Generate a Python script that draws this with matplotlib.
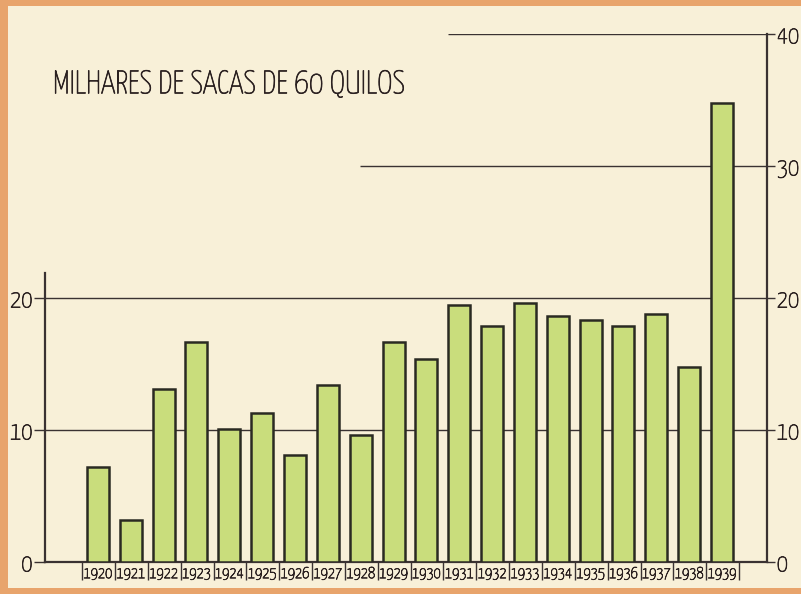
import matplotlib.pyplot as plt
import matplotlib.patheffects as pe
from matplotlib.patches import Rectangle

# dados
anos = ['1920', '1921', '1922', '1923', '1924', '1925', '1926', '1927', '1928', '1929',
        '1930', '1931', '1932', '1933', '1934', '1935', '1936', '1937', '1938', '1939']
sacas = [7.2, 3.2, 13.1, 16.7, 10.1, 11.3, 8.1, 13.4, 9.6, 16.7,
         15.4, 19.5, 17.9, 19.6, 18.6, 18.3, 17.9, 18.8, 14.8, 34.8]
ticks_esq = [0, 10, 20]
ticks_dir = [0, 10, 20, 30, 40]
titulo = 'MILHARES DE SACAS DE 60 QUILOS'

plt.rcParams['font.family'] = ['Yanone Kaffeesatz', 'Liberation Sans Narrow', 'DejaVu Sans']

fundo = '#f8f0d8'
laranja = '#e8a46c'
traco = '#3a3232'
letra = '#2a2020'
# engrossa um pouco o traço das letras
grosso = [pe.withStroke(linewidth=0.5, foreground=letra)]

fig = plt.figure(figsize=(8.01, 5.94), dpi=100, facecolor=laranja)
# papel creme dentro da moldura laranja
fig.patches.append(Rectangle((8 / 801, 6 / 594), 1 - 8 / 801, 1 - 12 / 594,
                             transform=fig.transFigure, facecolor=fundo,
                             edgecolor='none', zorder=-5))

ax = fig.add_axes([45 / 801, 32 / 594, 722 / 801, 528 / 594])
ax.set_facecolor('none')

x = list(range(len(anos)))
ax.bar(x, sacas, width=0.67, color='#c9dd7c', edgecolor='#2a2a22',
       linewidth=1.8, zorder=3)

# linhas de referência
ax.hlines([10, 20], -1.61, 20.37, color=traco, linewidth=1, zorder=1)
ax.hlines(30, 7.98, 20.37, color=traco, linewidth=1, zorder=1)
ax.hlines(40, 10.65, 20.37, color=traco, linewidth=1, zorder=1)

ax.set_xlim(-1.61, 20.37)
ax.set_ylim(0, 40)

ax.spines['top'].set_visible(False)
for lado in ['left', 'right', 'bottom']:
    ax.spines[lado].set_color(traco)
    ax.spines[lado].set_linewidth(1.6)
ax.spines['left'].set_bounds(0, 21.9)

# eixo esquerdo
ax.set_yticks(ticks_esq)
ax.set_yticklabels([str(t) for t in ticks_esq])
ax.tick_params(axis='y', direction='out', length=8, width=1, color=traco,
               labelsize=18, labelcolor=letra, pad=1)

# eixo direito
axd = ax.twinx()
axd.set_ylim(0, 40)
axd.set_yticks(ticks_dir)
axd.set_yticklabels([str(t) for t in ticks_dir])
axd.tick_params(axis='y', direction='out', length=6, width=1, color=traco,
                labelsize=18, labelcolor=letra, pad=1)
for lado in ['top', 'left', 'bottom', 'right']:
    axd.spines[lado].set_visible(False)

# anos sob as barras
ax.set_xticks(x)
ax.set_xticklabels(anos)
ax.set_xticks([i - 0.48 for i in range(len(anos) + 1)], minor=True)
ax.tick_params(axis='x', which='major', length=0, labelsize=11.5,
               labelcolor=letra, pad=3)
ax.tick_params(axis='x', which='minor', direction='out', length=13,
               width=1, color=traco)

for rot in ax.get_xticklabels() + ax.get_yticklabels() + axd.get_yticklabels():
    rot.set_path_effects(grosso)

fig.text(53 / 801, 1 - 84 / 594, titulo, fontsize=23.5, color=letra,
         va='center', ha='left', path_effects=grosso)

fig.savefig('out.png', dpi=100, facecolor=laranja)
